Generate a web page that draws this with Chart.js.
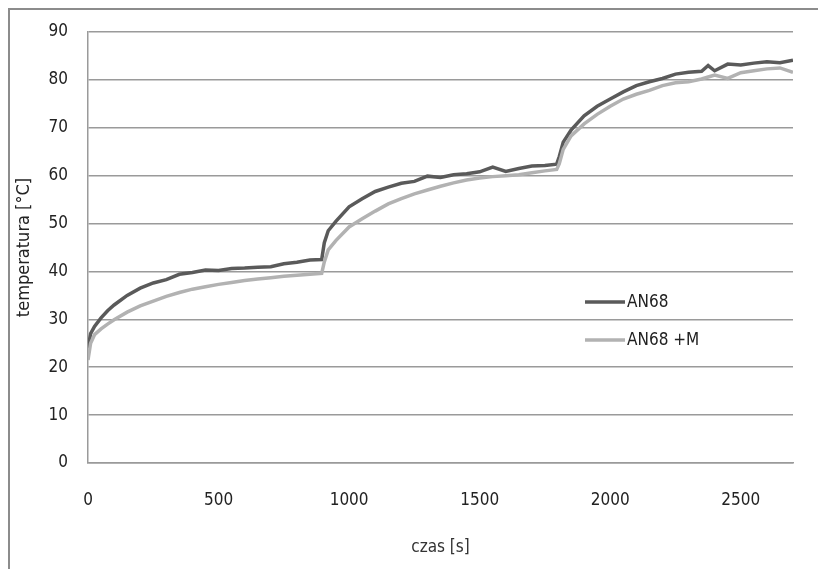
<!DOCTYPE html>
<html>
<head>
<meta charset="utf-8">
<script src="https://cdn.jsdelivr.net/npm/chart.js@4"></script>
<style>
  html, body { margin: 0; padding: 0; background: #fff; }
  #wrap { position: relative; width: 818px; height: 569px; }
</style>
</head>
<body>
<div id="wrap"><canvas id="tempChart"></canvas></div>
<script>
// czas pomiaru [s]
const czas = [0, 10, 25, 50, 75, 100, 150, 200, 250, 300, 350, 400, 450, 500, 550, 600, 650, 700, 750, 800, 850, 895,
    905, 920, 950, 1000, 1050, 1100, 1150, 1200, 1250, 1300, 1350, 1400, 1450, 1500, 1550, 1600, 1650, 1700, 1750, 1795,
    1805, 1820, 1850, 1900, 1950, 2000, 2050, 2100, 2150, 2200, 2250, 2300, 2350, 2375, 2400, 2450, 2500, 2550, 2600, 2650, 2700];

// temperatura [°C] - olej AN68
const an68 = [24, 27, 28.5, 30.3, 31.8, 33, 35, 36.5, 37.6, 38.3, 39.4, 39.8, 40.3, 40.2, 40.6, 40.7, 40.9, 41.0, 41.6, 41.9, 42.4, 42.5,
    46, 48.5, 50.5, 53.5, 55.2, 56.7, 57.6, 58.4, 58.8, 59.9, 59.6, 60.2, 60.4, 60.8, 61.8, 60.9, 61.5, 62.0, 62.1, 62.4,
    64, 67, 69.5, 72.5, 74.5, 76, 77.5, 78.8, 79.6, 80.3, 81.2, 81.6, 81.8, 83, 81.9, 83.3, 83.1, 83.5, 83.8, 83.6, 84.1];

// temperatura [°C] - olej AN68 z dodatkiem M
const an68m = [21.5, 25, 26.8, 28, 29, 29.9, 31.5, 32.8, 33.8, 34.8, 35.6, 36.3, 36.8, 37.3, 37.7, 38.1, 38.4, 38.7, 39.0, 39.2, 39.4, 39.6,
    42, 44.5, 46.5, 49.3, 51, 52.6, 54.1, 55.2, 56.2, 57.0, 57.8, 58.5, 59.1, 59.5, 59.8, 60.0, 60.2, 60.6, 61.0, 61.3,
    62.5, 65.5, 68.3, 70.8, 72.8, 74.5, 76, 77.0, 77.8, 78.8, 79.4, 79.6, 80.2, 80.6, 81.0, 80.3, 81.5, 81.9, 82.3, 82.5, 81.6];

const seriesNames = ["AN68", "AN68 +M"];
const xTicks = [0, 500, 1000, 1500, 2000, 2500];

const toPoints = (vals) => vals.map((v, i) => ({ x: czas[i], y: v }));

const font = "'Liberation Sans Narrow', 'DejaVu Sans Condensed', sans-serif";

// ramka wykresu (lewa i górna krawędź)
const framePlugin = {
    id: "frame",
    beforeDraw(chart) {
        const ctx = chart.ctx;
        ctx.save();
        ctx.strokeStyle = "#8c8c8c";
        ctx.lineWidth = 2;
        ctx.beginPath();
        ctx.moveTo(9, chart.height);
        ctx.lineTo(9, 9);
        ctx.lineTo(chart.width, 9);
        ctx.stroke();
        ctx.restore();
    }
};

// legenda wewnątrz obszaru wykresu
const legendPlugin = {
    id: "innerLegend",
    afterDraw(chart) {
        const ctx = chart.ctx;
        const x0 = 585, rows = [302, 340];
        ctx.save();
        ctx.font = "17px " + font;
        ctx.textBaseline = "middle";
        seriesNames.forEach((name, i) => {
            const ds = chart.data.datasets.find(d => d.label === name);
            ctx.strokeStyle = ds.borderColor;
            ctx.lineWidth = 3.5;
            ctx.beginPath();
            ctx.moveTo(x0, rows[i]);
            ctx.lineTo(x0 + 40, rows[i]);
            ctx.stroke();
            ctx.fillStyle = "#222";
            ctx.fillText(name, x0 + 42, rows[i] + 1);
        });
        ctx.restore();
    }
};

const ctx = document.getElementById("tempChart").getContext("2d");

new Chart(ctx, {
    type: "line",
    data: {
        datasets: [
            {
                label: seriesNames[0],
                data: toPoints(an68),
                borderColor: "#5a5a5a",
                borderWidth: 3.5,
                pointRadius: 0,
                tension: 0,
                order: 1
            },
            {
                label: seriesNames[1],
                data: toPoints(an68m),
                borderColor: "#b2b2b2",
                borderWidth: 3.5,
                pointRadius: 0,
                tension: 0,
                order: 0
            }
        ]
    },
    options: {
        responsive: true,
        maintainAspectRatio: false,
        animation: false,
        layout: { padding: { top: 32, right: 25, left: 0, bottom: 0 } },
        plugins: {
            legend: { display: false },
            tooltip: { enabled: false }
        },
        scales: {
            x: {
                type: "linear",
                min: 0,
                max: 2700,
                afterBuildTicks: (scale) => {
                    scale.ticks = xTicks.map(v => ({ value: v }));
                },
                afterFit: (scale) => { scale.height = 106; },
                grid: { display: false, drawTicks: false },
                border: { display: true, color: "#9a9a9a", width: 1.5 },
                ticks: {
                    padding: 27,
                    color: "#222",
                    maxRotation: 0,
                    callback: (v) => String(v),
                    font: { family: font, size: 17 }
                },
                title: {
                    display: true,
                    text: "czas [s]",
                    color: "#333",
                    font: { family: font, size: 17 },
                    padding: { top: 0, bottom: 11 }
                }
            },
            y: {
                min: 0,
                max: 90,
                ticks: {
                    stepSize: 10,
                    padding: 20,
                    color: "#222",
                    font: { family: font, size: 17 }
                },
                afterFit: (scale) => { scale.width = 88; },
                grid: { color: "#9a9a9a", lineWidth: 1.5, drawTicks: false },
                border: { display: true, color: "#9a9a9a", width: 1.5 },
                title: {
                    display: true,
                    text: "temperatura [°C]",
                    color: "#222",
                    font: { family: font, size: 18 },
                    padding: { top: 14, bottom: 0 }
                }
            }
        }
    },
    plugins: [framePlugin, legendPlugin]
});
</script>
</body>
</html>
